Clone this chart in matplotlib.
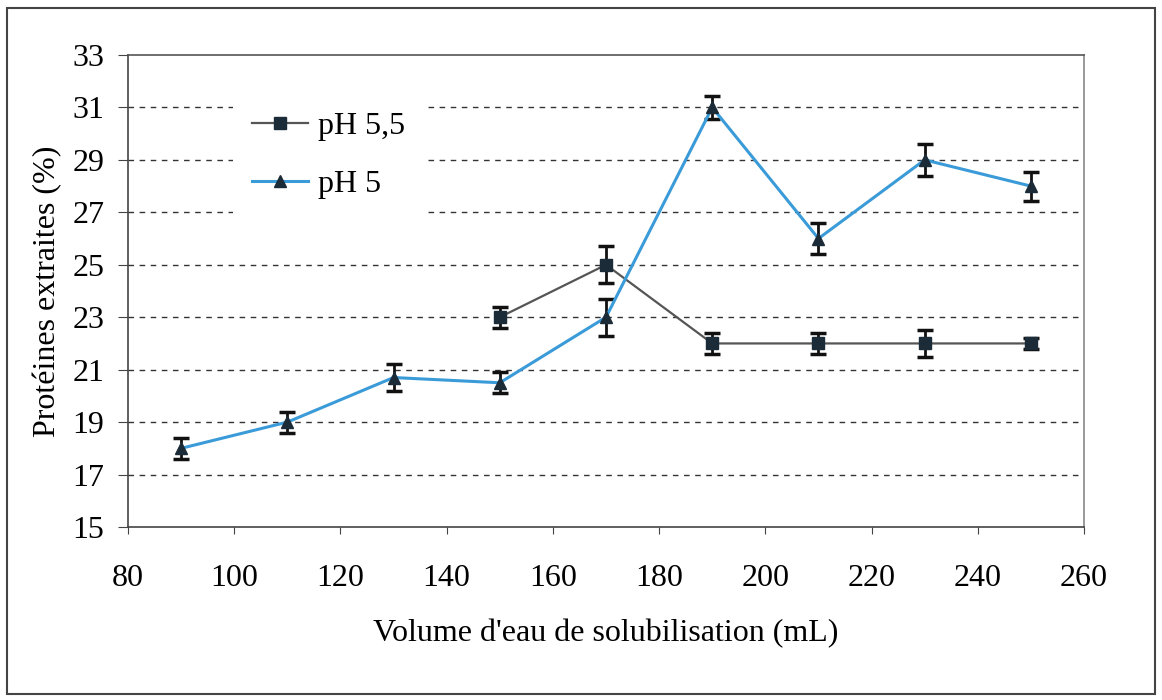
import matplotlib.pyplot as plt
from matplotlib.patches import Rectangle

plt.rcParams['font.family'] = ['Liberation Serif', 'DejaVu Serif']

# pH 5,5 series
x55 = [150, 170, 190, 210, 230, 250]
y55 = [23, 25, 22, 22, 22, 22]
e55 = [0.4, 0.7, 0.4, 0.4, 0.5, 0.2]

# pH 5 series
x5 = [90, 110, 130, 150, 170, 190, 210, 230, 250]
y5 = [18, 19, 20.7, 20.5, 23, 31, 26, 29, 28]
e5 = [0.4, 0.4, 0.5, 0.4, 0.7, 0.45, 0.6, 0.6, 0.55]

xticks = [80, 100, 120, 140, 160, 180, 200, 220, 240, 260]
yticks = [15, 17, 19, 21, 23, 25, 27, 29, 31, 33]

fig = plt.figure(figsize=(11.62, 7), dpi=100)
# outer frame
fig.patches.append(Rectangle((0.006, 0.008), 0.988, 0.98, transform=fig.transFigure,
                             fill=False, edgecolor='#444444', linewidth=1.5))
ax = fig.add_axes([128 / 1162, 1 - 527 / 700, (1084 - 128) / 1162, (527 - 55) / 700])

for y in yticks[1:-1]:
    ax.axhline(y, color='#333333', linestyle=(0, (4, 4)), linewidth=1.0, zorder=1)

# error bars (no legend entry)
ax.errorbar(x55, y55, yerr=e55, fmt='none', ecolor='#111111',
            elinewidth=2, capsize=6, capthick=2.5, zorder=3)
ax.errorbar(x5, y5, yerr=e5, fmt='none', ecolor='#111111',
            elinewidth=2, capsize=6, capthick=2.5, zorder=4)

# lines with markers
ax.plot(x55, y55, color='#555555', linewidth=1.6, marker='s', markersize=8,
        markerfacecolor='#1c2b38', markeredgecolor='#1c2b38', label='pH 5,5', zorder=3)
ax.plot(x5, y5, color='#3a9bd8', linewidth=2.2, marker='^', markersize=9,
        markerfacecolor='#1c2b38', markeredgecolor='#1c2b38', label='pH 5', zorder=4)

ax.set_xlim(80, 260)
ax.set_ylim(15, 33)
ax.set_xticks(xticks)
ax.set_yticks(yticks)
ax.tick_params(axis='x', labelsize=23, length=5, color='#444444', pad=22)
ax.tick_params(axis='y', labelsize=23, length=7, color='#444444', pad=10)
for s in ax.spines.values():
    s.set_color('#444444')
    s.set_linewidth(1.2)
ax.spines['right'].set_color('#888888')
ax.spines['top'].set_color('#555555')

ax.set_xlabel("Volume d'eau de solubilisation (mL)", fontsize=23, labelpad=18)
ax.set_ylabel('Protéines extraites (%)', fontsize=23, labelpad=7)

leg = ax.legend(loc='upper left', bbox_to_anchor=(0.093, 0.955), fontsize=23, frameon=True,
                handlelength=1.75, handletextpad=0.3, labelspacing=0.9, borderpad=0.6,
                fancybox=False)
leg.get_frame().set_edgecolor('none')
leg.get_frame().set_facecolor('white')
leg.get_frame().set_alpha(1)
leg.set_zorder(5)

fig.savefig('out.png', dpi=100)
